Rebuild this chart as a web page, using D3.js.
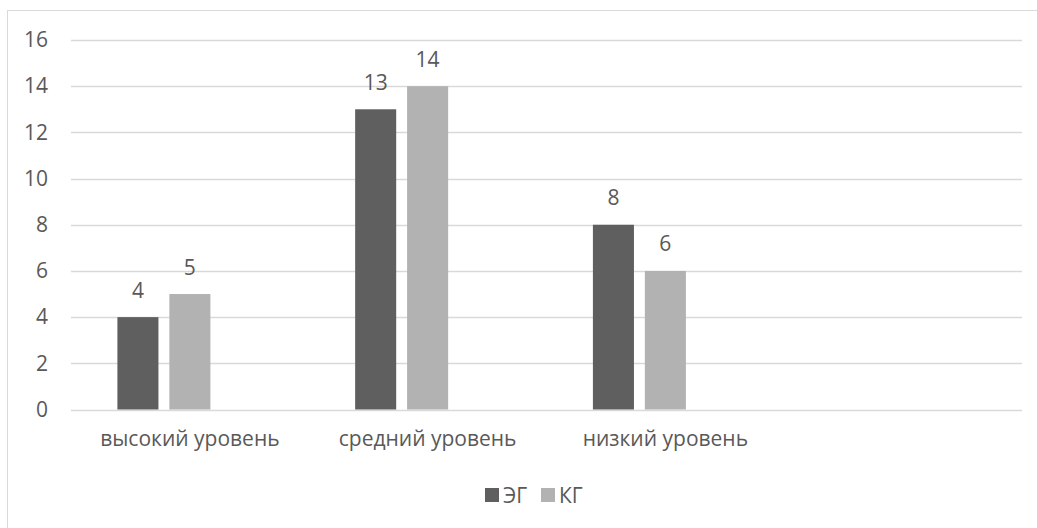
<!DOCTYPE html>
<html>
<head>
<meta charset="utf-8">
<script src="https://cdn.jsdelivr.net/npm/d3@7"></script>
<style>
  body { margin: 0; background: #fff; }
  text { font-family: "Open Sans", sans-serif; fill: #595959; }
</style>
</head>
<body>
<div id="plot"></div>
<script>
var categories = ["высокий уровень", "средний уровень", "низкий уровень", ""]
var seriesNames = ["ЭГ", "КГ", ""]      // third series is empty in the original
var valuesEG = [4, 13, 8, null]
var valuesKG = [5, 14, 6, null]
var yTicks = [0, 2, 4, 6, 8, 10, 12, 14, 16]
var colors = ["#5f5f5f", "#b2b2b2", "#ffffff"]

var W = 1037, H = 528
var margin = { top: 40, left: 71 }
  , width = 1022 - margin.left
  , height = 409.5 - margin.top
var fs = "21px"

var svg = d3.select("#plot")
  .append("svg")
  .attr("width", W)
  .attr("height", H)

// chart frame
svg.append("rect")
  .attr("x", 7.5).attr("y", 10.5)
  .attr("width", W + 20).attr("height", H + 20)
  .attr("fill", "none")
  .attr("stroke", "#d9d9d9")

var g = svg.append("g")
  .attr("transform", "translate(" + margin.left + "," + margin.top + ")")

var xScale = d3.scaleBand()
  .domain(categories.map((d, i) => i))
  .range([0, width])
  .padding(0)

var step = xScale.step()
var xInner = d3.scaleBand()
  .domain(seriesNames.map((d, i) => i))
  .range([46.4, step - 46.4])
  .paddingInner(0.21)

var yScale = d3.scaleLinear()
  .domain([0, 16])
  .range([height, 0])

// gridlines
g.selectAll(".grid")
  .data(yTicks)
  .enter()
  .append("line")
  .attr("class", "grid")
  .attr("x1", 0).attr("x2", width)
  .attr("y1", d => Math.round(yScale(d)) + 0.5)
  .attr("y2", d => Math.round(yScale(d)) + 0.5)
  .attr("stroke", "#d9d9d9")
  .attr("stroke-width", 1.3)

// y labels
var yAxis = d3.axisLeft(yScale).tickValues(yTicks).tickSize(0).tickPadding(23)
g.append("g")
  .attr("class", "y axis")
  .call(yAxis)
  .call(a => a.select(".domain").remove())
  .selectAll("text")
  .style("font-family", "Open Sans")
  .style("font-size", fs)
  .attr("fill", "#595959")

// x labels
var xAxis = d3.axisBottom(xScale).tickFormat(i => categories[i]).tickSize(0).tickPadding(22)
g.append("g")
  .attr("class", "x axis")
  .attr("transform", "translate(0," + height + ")")
  .call(xAxis)
  .call(a => a.select(".domain").remove())
  .selectAll("text")
  .style("font-family", "Open Sans")
  .style("font-size", fs)
  .attr("fill", "#595959")

var seriesData = [valuesEG, valuesKG]

seriesData.forEach(function (vals, s) {
  var bars = vals.map((v, i) => ({ i: i, v: v })).filter(d => d.v != null)

  g.selectAll(".bar" + s)
    .data(bars)
    .enter()
    .append("rect")
    .attr("class", "bar" + s)
    .attr("x", d => xScale(d.i) + xInner(s))
    .attr("y", d => yScale(d.v))
    .attr("width", xInner.bandwidth())
    .attr("height", d => height - yScale(d.v))
    .attr("fill", colors[s])

  g.selectAll(".lbl" + s)
    .data(bars)
    .enter()
    .append("text")
    .attr("class", "lbl" + s)
    .attr("x", d => xScale(d.i) + xInner(s) + xInner.bandwidth() / 2)
    .attr("y", d => yScale(d.v) - 19.5)
    .attr("text-anchor", "middle")
    .style("font-size", fs)
    .text(d => d.v)
})

// legend
var legend = svg.append("g")
  .attr("transform", "translate(485,488)")

var legItems = legend.selectAll(".leg")
  .data(seriesNames.slice(0, 2))
  .enter()
  .append("g")
  .attr("class", "leg")
  .attr("transform", (d, i) => "translate(" + (i * 56) + ",0)")

legItems.append("rect")
  .attr("width", 14).attr("height", 14)
  .attr("fill", (d, i) => colors[i])

legItems.append("text")
  .attr("x", 18).attr("y", 15)
  .style("font-size", fs)
  .text(d => d)
</script>
</body>
</html>
